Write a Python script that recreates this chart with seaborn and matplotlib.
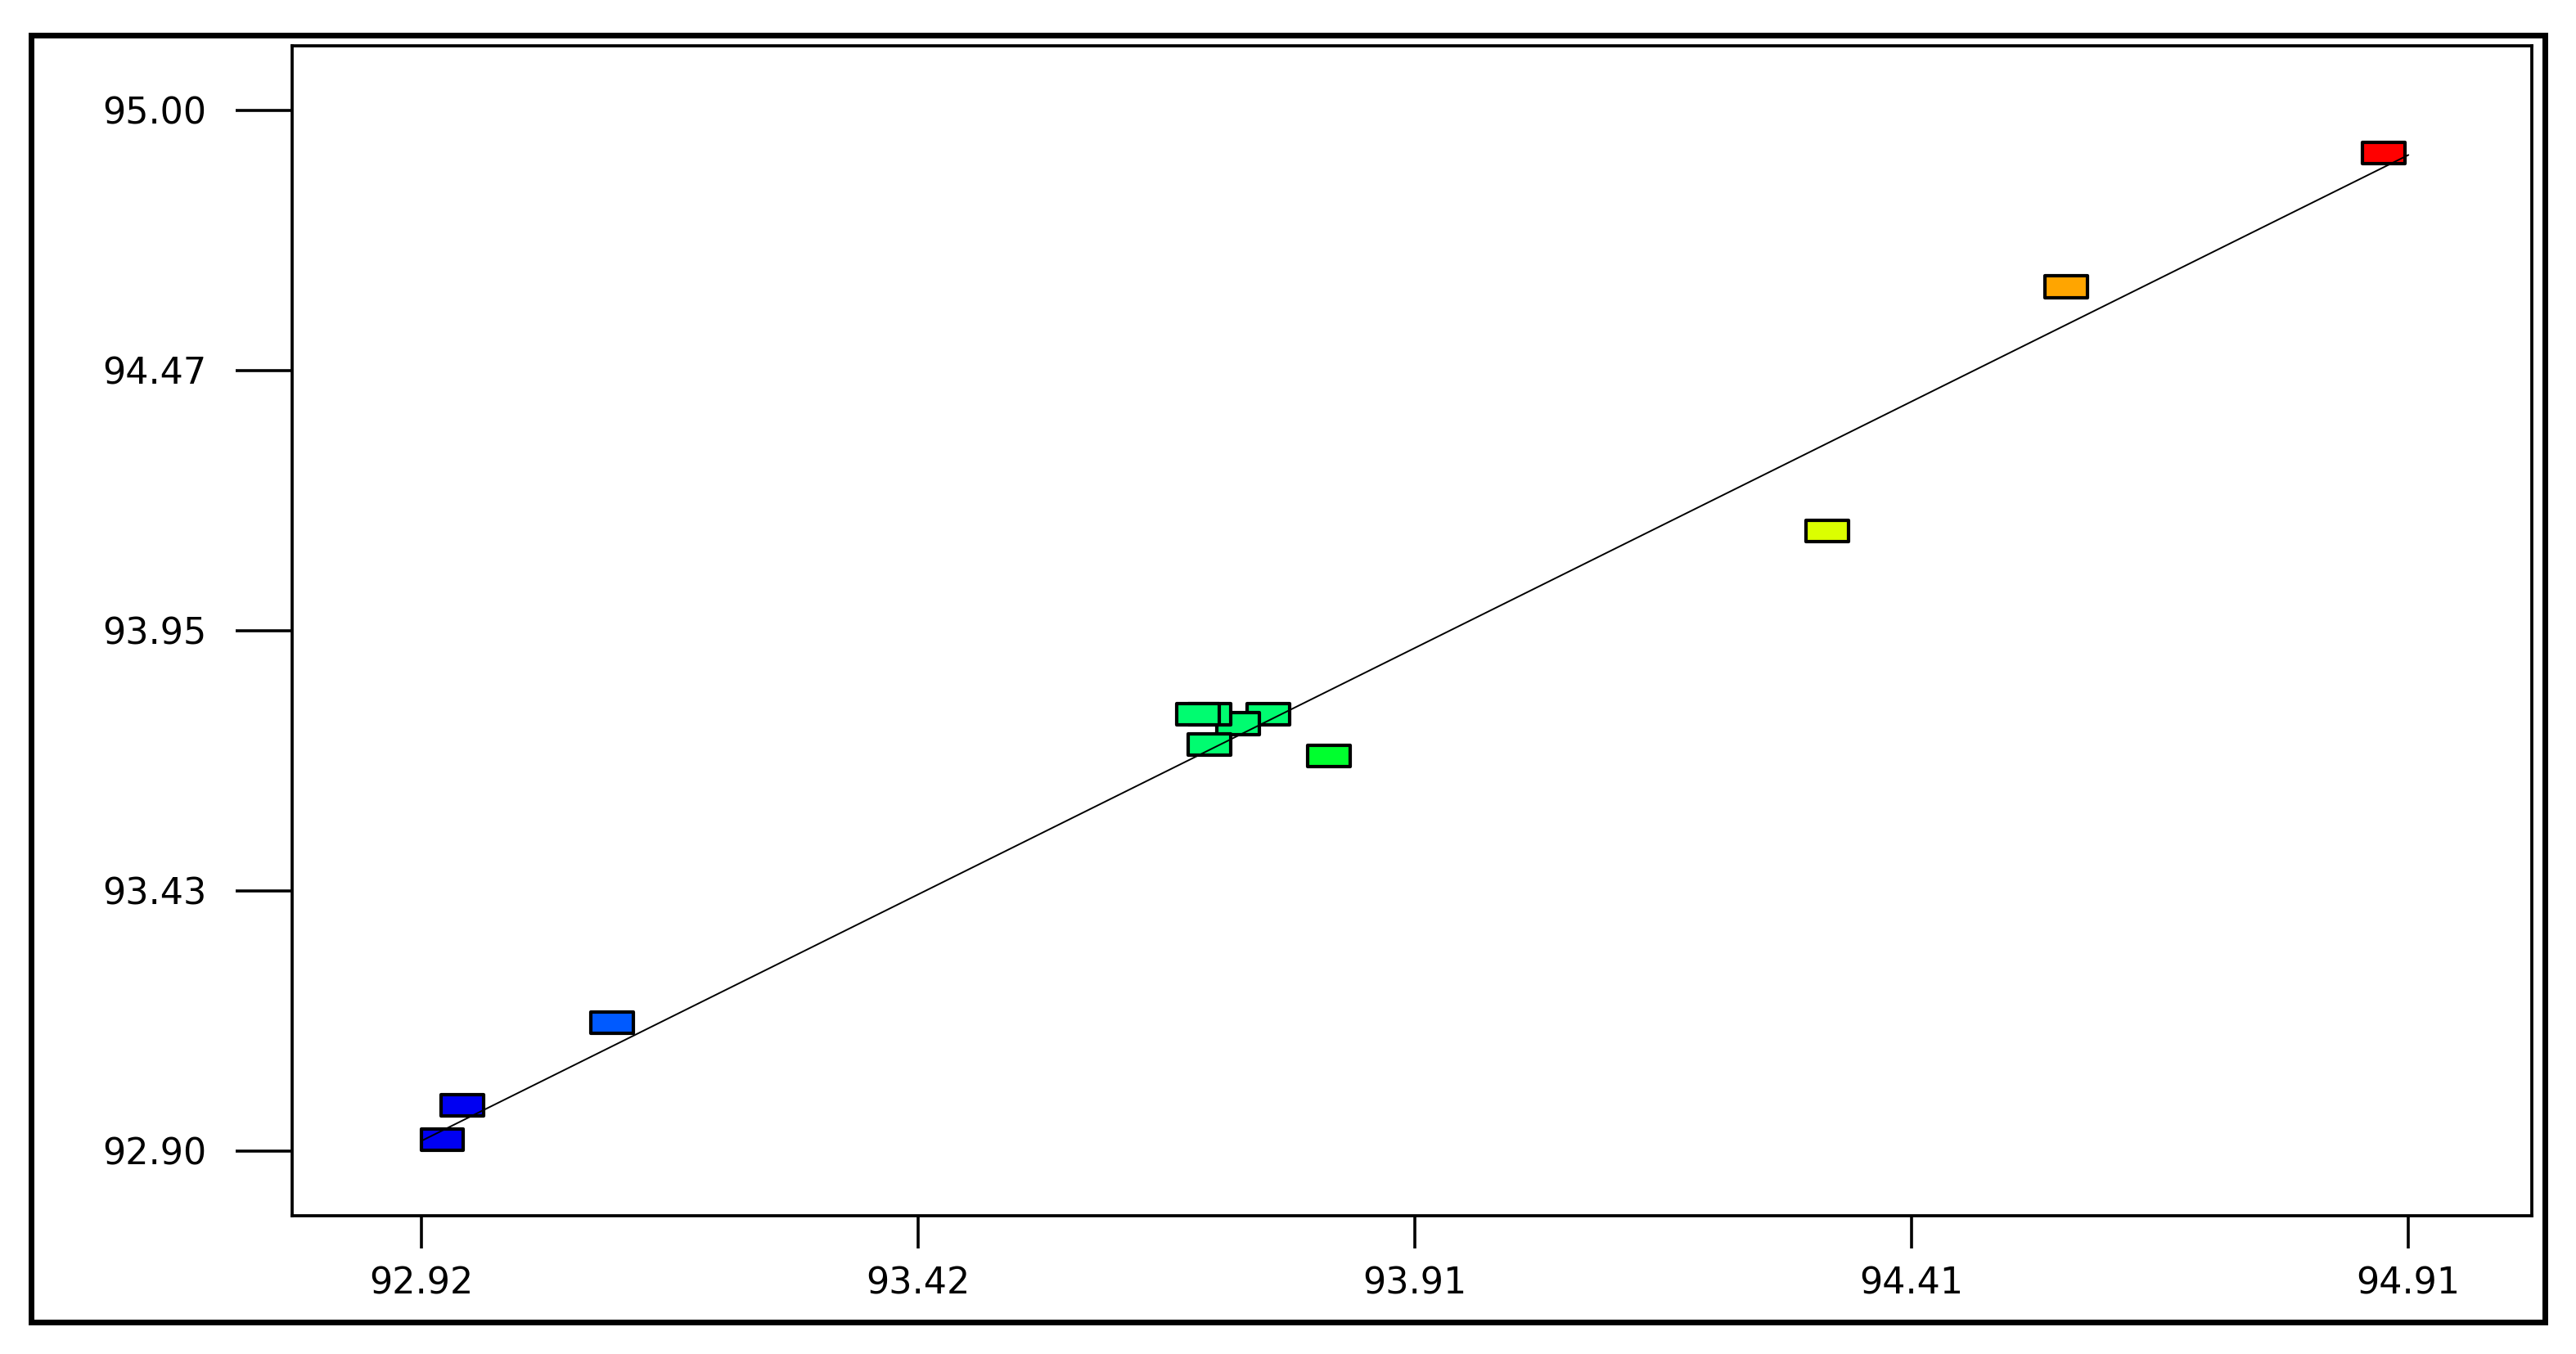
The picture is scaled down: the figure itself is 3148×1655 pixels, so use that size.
import matplotlib as mpl
import matplotlib.pyplot as plt
import pandas as pd
import seaborn as sns
from matplotlib.patches import Rectangle
from matplotlib.path import Path

sns.set_style("white")
plt.rcParams['font.family'] = ['DejaVu Sans']

# actual vs predicted values
actual = [92.941, 92.961, 93.111, 93.768, 93.738, 93.709,
          93.698, 93.709, 93.829, 94.328, 94.567, 94.885]
predicted = [92.923, 92.992, 93.159, 93.781, 93.762, 93.781,
             93.781, 93.720, 93.697, 94.151, 94.644, 94.914]
point_colors = ['#0000F2', '#0000F2', '#005AFF', '#00FC70', '#00FC70', '#00FC70',
                '#00FC70', '#00FC70', '#00FF2E', '#DBFF00', '#FFA500', '#FF0000']

# reference (y = x) line end points
fit_line = [92.92, 94.91]

x_ticks = [92.92, 93.4175, 93.915, 94.4125, 94.91]
x_tick_labels = ['92.92', '93.42', '93.91', '94.41', '94.91']
y_ticks = [92.90, 93.425, 93.95, 94.475, 95.00]
y_tick_labels = ['92.90', '93.43', '93.95', '94.47', '95.00']

df = pd.DataFrame({'actual': actual, 'predicted': predicted,
                   'run': [str(i) for i in range(len(actual))]})
palette = dict(zip(df['run'], point_colors))

fig = plt.figure(figsize=(31.48, 16.55), dpi=100)
ax = fig.add_axes([0.1134, 0.1021, 0.9829 - 0.1134, 0.9662 - 0.1021])

# wide rectangular marker, like the original
rect = Path([(-1, -0.51), (1, -0.51), (1, 0.51), (-1, 0.51), (-1, -0.51)],
            closed=True)
sns.scatterplot(data=df, x='actual', y='predicted', hue='run',
                hue_order=list(df['run']), palette=palette, legend=False,
                marker=mpl.markers.MarkerStyle(rect), s=37.4 ** 2,
                edgecolor='black', linewidth=3.0, ax=ax, zorder=2)
sns.lineplot(x=fit_line, y=fit_line, color='black', linewidth=1.4,
             ax=ax, zorder=3)

ax.set_xlim(92.7906, 95.0337)
ax.set_ylim(92.769, 95.1304)
ax.set_xticks(x_ticks)
ax.set_xticklabels(x_tick_labels)
ax.set_yticks(y_ticks)
ax.set_yticklabels(y_tick_labels)
ax.set_xlabel('')
ax.set_ylabel('')

ax.tick_params(axis='y', direction='out', length=50, width=2.6, pad=25,
               labelsize=32, colors='black', left=True)
ax.tick_params(axis='x', direction='out', length=29, width=2.6, pad=15,
               labelsize=32, colors='black', bottom=True)
for label in ax.get_yticklabels():
    label.set_y(label.get_position()[1])
for spine in ax.spines.values():
    spine.set_color('black')
    spine.set_linewidth(2.7)

# outer border around the whole picture
fig.add_artist(Rectangle((0.01207, 0.02356), 0.98793 - 0.01207, 0.97402 - 0.02356,
                         transform=fig.transFigure, fill=False,
                         edgecolor='black', linewidth=5.0))

fig.savefig('out.png', dpi=100)
